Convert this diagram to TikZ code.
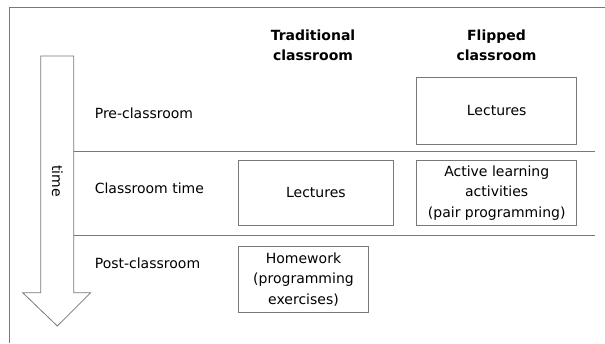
\documentclass[tikz,border=0pt]{standalone}
\usepackage{fontspec}
\setmainfont{DejaVu Sans}
\definecolor{linegray}{RGB}{120,120,120}

\begin{document}
\begin{tikzpicture} [x = 1pt, y = -1pt,
  txt/.style = {font = \fontsize{14}{20.5}\selectfont, inner sep = 0pt},
  head/.style = {txt, font = \fontsize{14}{20}\selectfont\bfseries, align = center},
  cellbox/.style = {txt, draw = linegray, line width = 0.8pt, align = center},
  rowlabel/.style = {txt, anchor = west}]
\useasboundingbox (0, 0) rectangle (605, 343);
% frame
\draw[linegray, line width = 0.8pt] (9.3, 343) -- (9.3, 7.3) -- (605, 7.3);
% time arrow
\draw[linegray, line width = 0.8pt] (40.7, 56) -- (73.7, 56) -- (73.7, 292.7) -- (90.7, 292.7)
  -- (57.3, 326) -- (22.7, 292.7) -- (40.7, 292.7) -- cycle;
\node[txt, rotate = -90] (time) at (57.3, 181) {time};
% row separators
\draw[linegray, line width = 0.8pt] (73.7, 151.3) -- (595, 151.3);
\draw[linegray, line width = 0.8pt] (73.7, 235.3) -- (595, 235.3);
% column heads
\node[head] (trad) at (313, 45) {Traditional\\classroom};
\node[head] (flip) at (496.5, 45) {Flipped\\classroom};
% row labels
\node[rowlabel] (pre) at (94.6, 113) {Pre-classroom};
\node[rowlabel] (inclass) at (94.6, 188) {Classroom time};
\node[rowlabel] (post) at (94.6, 263) {Post-classroom};
% cells
\node[cellbox, minimum width = 160, minimum height = 66.7] (flipLect) at (496.7, 110.7) {Lectures};
\node[cellbox, minimum width = 155.7, minimum height = 65.3] (tradLect) at (315.9, 192.7) {Lectures};
\node[cellbox, minimum width = 160, minimum height = 65.3] (active) at (496.7, 192.7)
  {Active learning\\activities\\(pair programming)};
\node[cellbox, minimum width = 130.4, minimum height = 65.6] (hw) at (303.5, 279.5)
  {Homework\\(programming\\exercises)};
\end{tikzpicture}
\end{document}
